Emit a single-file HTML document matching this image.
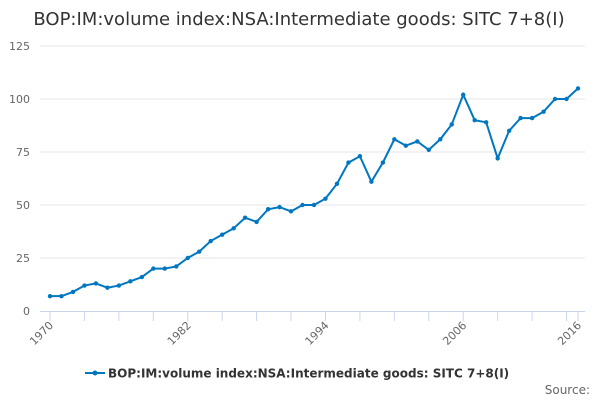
<!DOCTYPE html>
<html><head><meta charset="utf-8"><style>
body{margin:0;background:#fff;font-family:"Liberation Sans","DejaVu Sans",sans-serif}
</style></head><body>
<svg id="c" width="600" height="400" xmlns="http://www.w3.org/2000/svg" style="font-family:'DejaVu Sans','Liberation Sans',sans-serif">
<text x="299" y="25" text-anchor="middle" font-size="18" fill="#333">BOP:IM:volume index:NSA:Intermediate goods: SITC 7+8(I)</text>
<g id="grid"></g><g id="axes"></g><g id="series"></g>
<g>
<line x1="85" y1="373" x2="105" y2="373" stroke="#0077c0" stroke-width="2"/>
<circle cx="95" cy="373" r="2.5" fill="#0077c0"/>
<text x="108" y="377.5" font-size="12" font-weight="bold" fill="#333">BOP:IM:volume index:NSA:Intermediate goods: SITC 7+8(I)</text>
</g>
<text x="590" y="394" text-anchor="end" font-size="12" fill="#666">Source:</text>
</svg>
<script>
const years=[];for(let y=1970;y<=2016;y++)years.push(y);
const values=[7,7,9,12,13,11,12,14,16,20,20,21,25,28,33,36,39,44,42,48,49,47,50,50,53,60,70,73,61,70,81,78,80,76,81,88,102,90,89,72,85,91,91,94,100,100,105];
const yTicks=[0,25,50,75,100,125];
const xLabels=[1970,1982,1994,2006,2016];
const NS='http://www.w3.org/2000/svg';
const x=v=>50+(v-1970)*(528/46);
const y=v=>311-v*(265/125);
function mk(t,a,p){const e=document.createElementNS(NS,t);for(const k in a)e.setAttribute(k,a[k]);p.appendChild(e);return e;}
const grid=document.getElementById('grid'),axes=document.getElementById('axes'),ser=document.getElementById('series');
yTicks.forEach(t=>{
 if(t>0){const l=mk('line',{x1:40,x2:585,y1:y(t),y2:y(t),stroke:'#e6e6e6'},grid);
 
 }
 const tx=mk('text',{x:30,y:y(t)+4,'text-anchor':'end','font-size':11,fill:'#666'},axes);tx.textContent=t;
 
 
});
const ax=mk('line',{x1:40,x2:585,y1:311.5,y2:311.5,stroke:'#ccd6eb'},axes);


for(let yr=1970;yr<=2016;yr+=3){const t=mk('line',{x1:x(yr),x2:x(yr),y1:311,y2:321,stroke:'#ccd6eb'},axes);
 
 }
mk('line',{x1:x(2016),x2:x(2016),y1:311,y2:321,stroke:'#ccd6eb'},axes);
xLabels.forEach(yr=>{const px=x(yr)+4,py=326;
 const t=mk('text',{x:px,y:py,'text-anchor':'end','font-size':11,fill:'#666',transform:`rotate(-45 ${px} ${py})`},axes);t.textContent=yr;
 
 });
const pl=mk('polyline',{points:values.map((v,i)=>x(years[i])+','+y(v)).join(' '),fill:'none',stroke:'#0077c0','stroke-width':2},ser);


values.forEach((v,i)=>{const c=mk('circle',{cx:x(years[i]),cy:y(v),r:2.2,fill:'#0077c0'},ser);
 
 });
</script>
</body></html>
